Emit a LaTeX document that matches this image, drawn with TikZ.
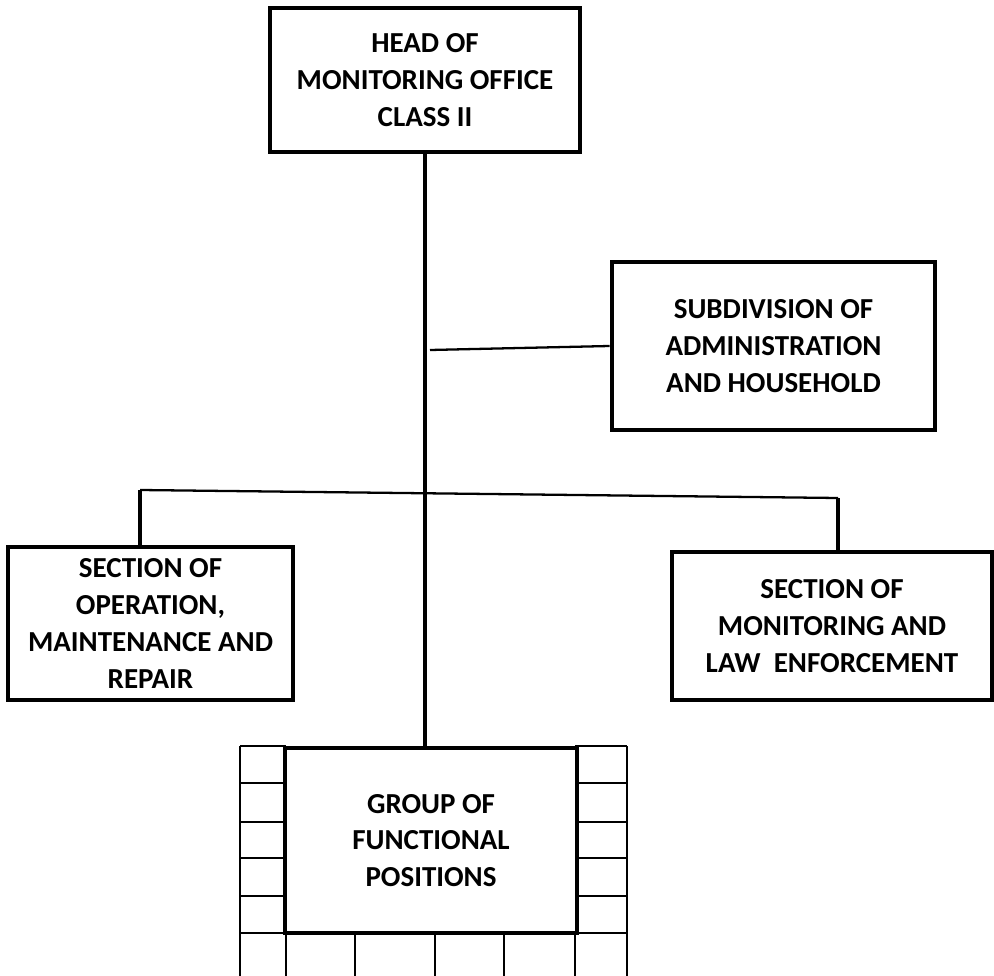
\documentclass[tikz,border=0pt]{standalone}
\usepackage{fontspec}
\setmainfont{Carlito}
\usepackage{tikz}
\usetikzlibrary{positioning}

\begin{document}
\begin{tikzpicture}[x=0.02cm, y=-0.02cm,
  % common options for blocks:
  block/.style = {draw, line width=2.7pt, fill=white, align=center, inner sep=0,
              font=\fontsize{16.5}{21}\selectfont\bfseries},
  % common options for the lines:
  trunk/.style = {line width=2.1pt},
  branch/.style = {line width=1.3pt},
  cell/.style = {line width=1.3pt}
	]
  \useasboundingbox (0,0) rectangle (994,976);

  % grid round the group box
  \foreach \y in {746,783,822,858,896,933} {
    \draw[cell] (240,\y) -- (286,\y);
    \draw[cell] (575,\y) -- (627,\y);
  }
  \draw[cell] (240,746) -- (240,976);
  \draw[cell] (627,746) -- (627,976);
  \draw[cell] (240,933) -- (627,933);
  \foreach \x in {286,355,435,504,575}
    \draw[cell] (\x,933) -- (\x,976);

  \node[block, minimum width=6.2cm, minimum height=2.88cm] (head) at (425,80)
    {HEAD OF\\MONITORING OFFICE\\CLASS II};
  \node[block, minimum width=6.46cm, minimum height=3.36cm] (subdiv) at (773.5,346)
    {SUBDIVISION OF\\ADMINISTRATION\\AND HOUSEHOLD};
  \node[block, minimum width=5.7cm, minimum height=3.06cm] (secop) at (150.5,623.5)
    {SECTION OF\\OPERATION,\\MAINTENANCE AND\\REPAIR};
  \node[block, minimum width=6.4cm, minimum height=2.96cm] (secmon) at (832,626)
    {SECTION OF\\MONITORING AND\\LAW~~ENFORCEMENT};
  \node[block, minimum width=5.84cm, minimum height=3.7cm] (group) at (431,840.5)
    {GROUP OF\\FUNCTIONAL\\POSITIONS};

  \coordinate (subjoin) at (430,350);
  \coordinate (busL) at (140,490);
  \coordinate (busR) at (838,498);

  \draw[trunk] (head.south) -- (head.south |- group.north);
  \draw[branch] (subjoin) -- (subdiv.west);
  \draw[branch] (busL) -- (busR);
  \draw[trunk] (busL) -- (busL |- secop.north);
  \draw[trunk] (busR) -- (busR |- secmon.north);
\end{tikzpicture}
\end{document}
